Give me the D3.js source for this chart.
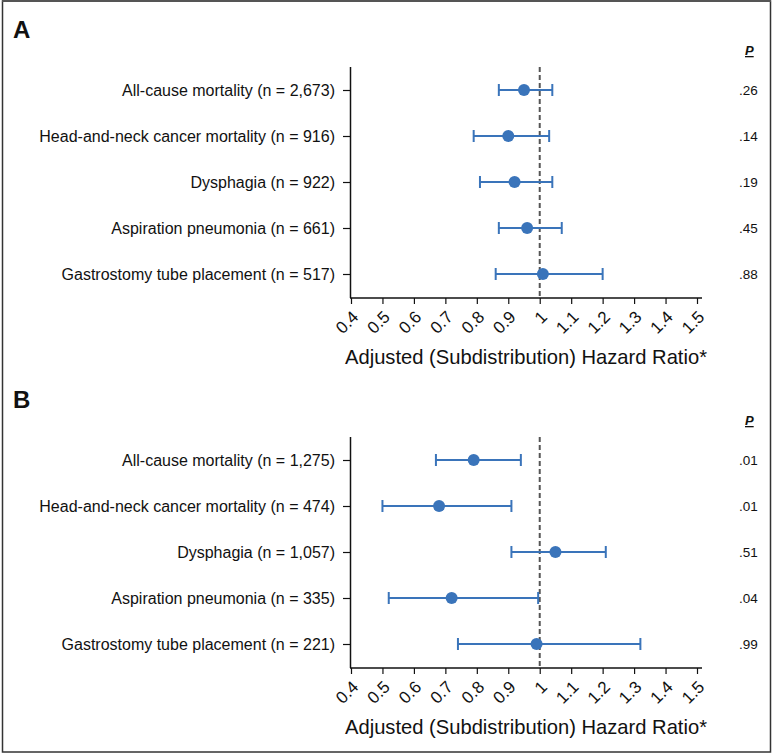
<!DOCTYPE html>
<html><head><meta charset="utf-8">
<script src="https://cdn.jsdelivr.net/npm/d3@7"></script>
<style>
html,body{margin:0;padding:0;background:#fff;}
svg{display:block;}
text{font-family:"Liberation Sans",Arial,Helvetica,sans-serif;fill:#111;}
</style></head><body>
<svg id="chart" width="776" height="754"></svg>
<script>
const categoriesA = ["All-cause mortality (n = 2,673)","Head-and-neck cancer mortality (n = 916)","Dysphagia (n = 922)","Aspiration pneumonia (n = 661)","Gastrostomy tube placement (n = 517)"];
const estA = [0.95, 0.90, 0.92, 0.96, 1.01];
const lowA = [0.87, 0.79, 0.81, 0.87, 0.86];
const highA = [1.04, 1.03, 1.04, 1.07, 1.20];
const pA = [".26",".14",".19",".45",".88"];

const categoriesB = ["All-cause mortality (n = 1,275)","Head-and-neck cancer mortality (n = 474)","Dysphagia (n = 1,057)","Aspiration pneumonia (n = 335)","Gastrostomy tube placement (n = 221)"];
const estB = [0.79, 0.68, 1.05, 0.72, 0.99];
const lowB = [0.67, 0.50, 0.91, 0.52, 0.74];
const highB = [0.94, 0.91, 1.21, 0.995, 1.32];
const pB = [".01",".01",".51",".04",".99"];

const xTicks = [0.4,0.5,0.6,0.7,0.8,0.9,1,1.1,1.2,1.3,1.4,1.5];
const xTitle = "Adjusted (Subdistribution) Hazard Ratio*";
const color = "#3a74ba";

const svg = d3.select("#chart");
svg.append("rect").attr("x",2.5).attr("y",1).attr("width",768).attr("height",751)
  .attr("fill","none").attr("stroke","#333").attr("stroke-width",1.5);
svg.append("line").attr("x1",2).attr("x2",771).attr("y1",1).attr("y2",1).attr("stroke","#555").attr("stroke-width",2);

const x = d3.scaleLinear().domain([0.4,1.5]).range([351,697]);

function panel(letter, top, cats, est, low, high, pv){
  const yTop = top, yBot = top + 231;
  const y = d3.scalePoint().domain(cats).range([yTop+23, yBot-24]);
  const g = svg.append("g");
  g.append("text").attr("x",13).attr("y",top-29).attr("font-size",24).attr("font-weight","bold").text(letter);
  // y axis
  const yAxis = d3.axisLeft(y).tickSize(8).tickPadding(8);
  const ya = g.append("g").attr("transform",`translate(${x(0.4)},0)`).call(yAxis);
  ya.select(".domain").attr("d",`M-0.5,${yTop}V${yBot}`).attr("stroke","#111").attr("stroke-width",1.5);
  ya.selectAll(".tick line").attr("stroke","#111").attr("stroke-width",1.2);
  ya.selectAll(".tick text").attr("font-size",16).attr("fill","#111")
    .style("font-family","'Liberation Sans',Arial,sans-serif");
  // x axis
  const xAxis = d3.axisBottom(x).tickValues(xTicks).tickSize(6).tickFormat(d=>String(d));
  const xa = g.append("g").attr("transform",`translate(0,${yBot})`).call(xAxis);
  xa.select(".domain").attr("d",`M${x(0.4)-1},0H${x(1.5)+5}`).attr("stroke","#111").attr("stroke-width",1.5);
  xa.selectAll(".tick line").attr("stroke","#111").attr("stroke-width",1.2);
  xa.selectAll(".tick text").attr("font-size",17).attr("fill","#111")
    .attr("text-anchor","end").attr("y",0).attr("dy",0)
    .attr("transform","translate(8,20) rotate(-45)")
    .style("font-family","'Liberation Sans Narrow','Liberation Sans',Arial,sans-serif");
  // title
  g.append("text").attr("x",345).attr("y",yBot+66).attr("font-size",21)
    .attr("textLength",362).attr("lengthAdjust","spacingAndGlyphs")
    .style("font-family","'Liberation Sans Narrow','Liberation Sans',Arial,sans-serif")
    .text(xTitle);
  // reference line
  g.append("line").attr("x1",x(1)).attr("x2",x(1)).attr("y1",yTop).attr("y2",yBot)
    .attr("stroke","#555").attr("stroke-width",2).attr("stroke-dasharray","5,3");
  // error bars
  const rows = cats.map((c,i)=>({c,e:est[i],l:low[i],h:high[i],p:pv[i]}));
  const eg = g.append("g");
  eg.selectAll("line.ci").data(rows).join("line").attr("class","ci")
    .attr("x1",d=>x(d.l)).attr("x2",d=>x(d.h)).attr("y1",d=>y(d.c)).attr("y2",d=>y(d.c))
    .attr("stroke",color).attr("stroke-width",2);
  eg.selectAll("line.capl").data(rows).join("line").attr("class","capl")
    .attr("x1",d=>x(d.l)).attr("x2",d=>x(d.l)).attr("y1",d=>y(d.c)-6).attr("y2",d=>y(d.c)+6)
    .attr("stroke",color).attr("stroke-width",2);
  eg.selectAll("line.caph").data(rows).join("line").attr("class","caph")
    .attr("x1",d=>x(d.h)).attr("x2",d=>x(d.h)).attr("y1",d=>y(d.c)-6).attr("y2",d=>y(d.c)+6)
    .attr("stroke",color).attr("stroke-width",2);
  eg.selectAll("circle").data(rows).join("circle")
    .attr("cx",d=>x(d.e)).attr("cy",d=>y(d.c)).attr("r",6).attr("fill",color);
  // P values
  g.append("text").attr("x",745).attr("y",yTop-12).attr("font-size",13)
    .attr("font-weight","bold").attr("font-style","italic").attr("text-decoration","underline").text("P");
  g.selectAll("text.pv").data(rows).join("text").attr("class","pv")
    .attr("x",739).attr("y",d=>y(d.c)).attr("dy","0.35em").attr("font-size",13.5).text(d=>d.p);
}

panel("A", 67, categoriesA, estA, lowA, highA, pA);
panel("B", 437, categoriesB, estB, lowB, highB, pB);
</script>
</body></html>
